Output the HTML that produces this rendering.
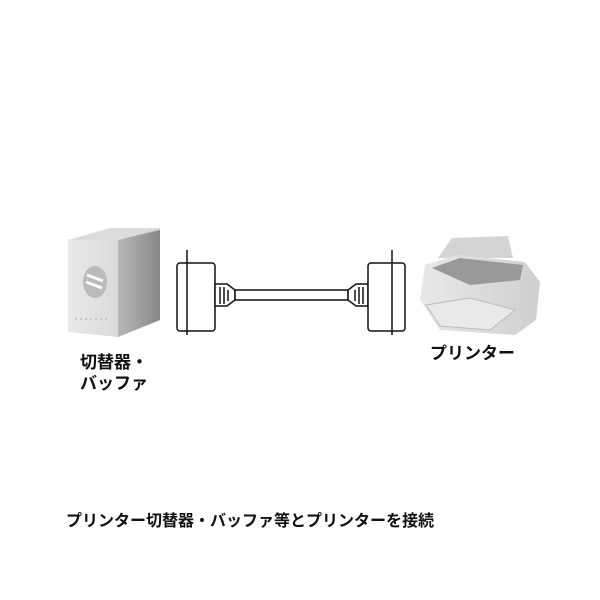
<!DOCTYPE html>
<html><head><meta charset="utf-8"><style>
body{margin:0;width:600px;height:600px;background:#fff;position:relative;overflow:hidden;font-family:"Liberation Sans","Noto Sans CJK JP",sans-serif;font-weight:bold;color:#111}
.t{position:absolute;white-space:nowrap;line-height:1}
</style></head><body>
<svg width="600" height="600" style="position:absolute;left:0;top:0">
<defs>
<linearGradient id="g1" x1="0" x2="1"><stop offset="0" stop-color="#e8e8e8"/><stop offset="1" stop-color="#cfcfcf"/></linearGradient>
<linearGradient id="g2" x1="0" x2="1"><stop offset="0" stop-color="#b8b8b8"/><stop offset="1" stop-color="#888"/></linearGradient>
</defs>
<!-- switch box -->
<polygon points="68,240 118,232 160,228 160,320 118,337 68,332" fill="url(#g1)"/>
<polygon points="118,240 160,230 160,320 118,337" fill="url(#g2)"/>
<polygon points="68,240 110,228 160,228 118,240" fill="#dcdcdc"/>
<ellipse cx="95" cy="282" rx="12" ry="16" fill="#bbb"/>
<path d="M87,275 l16,6 M86,282 l16,6" stroke="#fff" stroke-width="3"/>
<path d="M75,319 h35" stroke="#aaa" stroke-dasharray="2 3"/>
<!-- left connector -->
<g stroke="#111" stroke-width="1.5" fill="#fff">
<rect x="177" y="263" width="38" height="68" rx="3"/>
<line x1="187" y1="250" x2="187" y2="335"/>
<path d="M215,284 h12 l8,6 v10 l-8,6 h-12 z"/>
<path d="M220,287 v17 M224,287 v17 M228,290 v11"/>
<rect x="235" y="290" width="113" height="10"/>
<path d="M368,284 h-12 l-8,6 v10 l8,6 h12 z"/>
<path d="M363,287 v17 M359,287 v17 M355,290 v11"/>
<rect x="368" y="263" width="37" height="68" rx="3"/>
<line x1="392" y1="250" x2="392" y2="335"/>
</g>
<!-- printer -->
<polygon points="438,258 452,238 508,236 513,258" fill="#d4d4d4"/>
<polygon points="425,265 458,255 525,262 540,282 536,320 515,335 440,330 420,300" fill="url(#g1)"/>
<polygon points="432,268 460,258 523,265 520,280 470,285" fill="#999"/>
<polygon points="426,305 470,298 515,310 490,330 440,326" fill="#e9e9e9" stroke="#bbb"/>
</svg>
<div class="t" style="left:80px;top:354px;font-size:17px">切替器・</div>
<div class="t" style="left:80px;top:375px;font-size:17px">バッファ</div>
<div class="t" style="left:430px;top:345px;font-size:17px">プリンター</div>
<div class="t" style="left:66px;top:514px;font-size:16px">プリンター切替器・バッファ等とプリンターを接続</div>
</body></html>
